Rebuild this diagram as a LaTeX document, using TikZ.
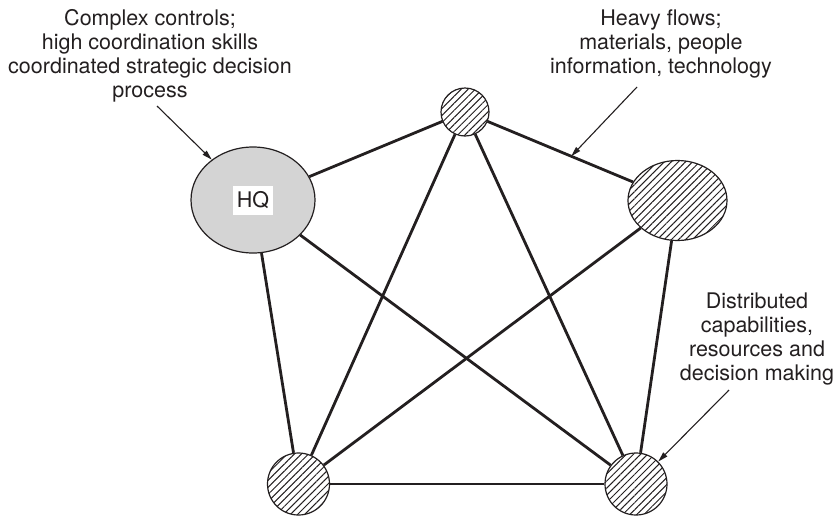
\documentclass[tikz,border=0pt]{standalone}
\usepackage{fontspec}
\setmainfont{TeX Gyre Heros}
\usetikzlibrary{shapes.geometric,arrows.meta,patterns.meta}

\definecolor{ink}{RGB}{35,31,32}
\definecolor{hqgray}{RGB}{212,212,212}

\tikzset{
  hub/.style={shape=ellipse, draw=ink, line width=1.2pt, fill=hqgray, inner sep=0pt},
  site/.style={draw=ink, line width=1.2pt, inner sep=0pt,
    pattern={Lines[angle=45, distance=5pt, line width=1pt]}, pattern color=ink},
  siteoval/.style={site, shape=ellipse},
  siteround/.style={site, shape=circle},
  flow/.style={draw=ink, line width=2.8pt},
  callout/.style={draw=ink, line width=1.1pt, -{Triangle[length=10pt, width=5.5pt]}},
  note/.style={align=center, text=ink, inner sep=0pt,
    font=\fontsize{21.5pt}{23.7pt}\selectfont},
  tag/.style={fill=white, text=ink, inner sep=0pt, minimum width=40pt, minimum height=29pt,
    font=\fontsize{21.5pt}{23.7pt}\selectfont}
}

\begin{document}
\begin{tikzpicture}[x=1pt, y=-1pt]
  \useasboundingbox (0,0) rectangle (836,515);

  % organisation units
  \node[hub, minimum width=124pt, minimum height=106pt] (hq) at (253,200) {};
  \node[tag] (hqtag) at (hq.center) {HQ};
  \node[siteround, minimum size=48pt] (top) at (465,112) {};
  \node[siteoval, minimum width=99pt, minimum height=80pt] (right) at (677.5,200.5) {};
  \node[siteround, minimum size=62pt] (bl) at (298.5,484) {};
  \node[siteround, minimum size=62pt] (br) at (636,484) {};

  % links between units
  \draw[flow] (hq) -- (top);
  \draw[flow] (hq) -- (bl);
  \draw[flow] (hq) -- (br);
  \draw[flow] (top) -- (right);
  \draw[flow] (top) -- (bl);
  \draw[flow] (top) -- (br);
  \draw[flow] (right) -- (bl);
  \draw[flow] (right) -- (br);
  \draw[flow] (bl) -- (br);

  % annotations (anchored at the baseline of their last line)
  \node[note, anchor=base] (ctrl) at (150,97)
    {Complex controls;\\high coordination skills\\coordinated strategic decision\\process};
  \node[note, anchor=base] (flows) at (661,73)
    {Heavy flows;\\materials, people\\information, technology};
  \node[note, anchor=base] (dist) at (757,380)
    {Distributed\\capabilities,\\resources and\\decision making};

  \coordinate (ctrlfoot) at (157,106);
  \coordinate (flowsfoot) at (637,87);
  \coordinate (distfoot) at (729,390);
  \path (top.center) -- (right.center) coordinate[pos=0.5] (flowmid);

  \draw[callout] (ctrlfoot) -- (hq);
  \draw[callout] (flowsfoot) -- (flowmid);
  \draw[callout] (distfoot) -- (br);
\end{tikzpicture}
\end{document}
